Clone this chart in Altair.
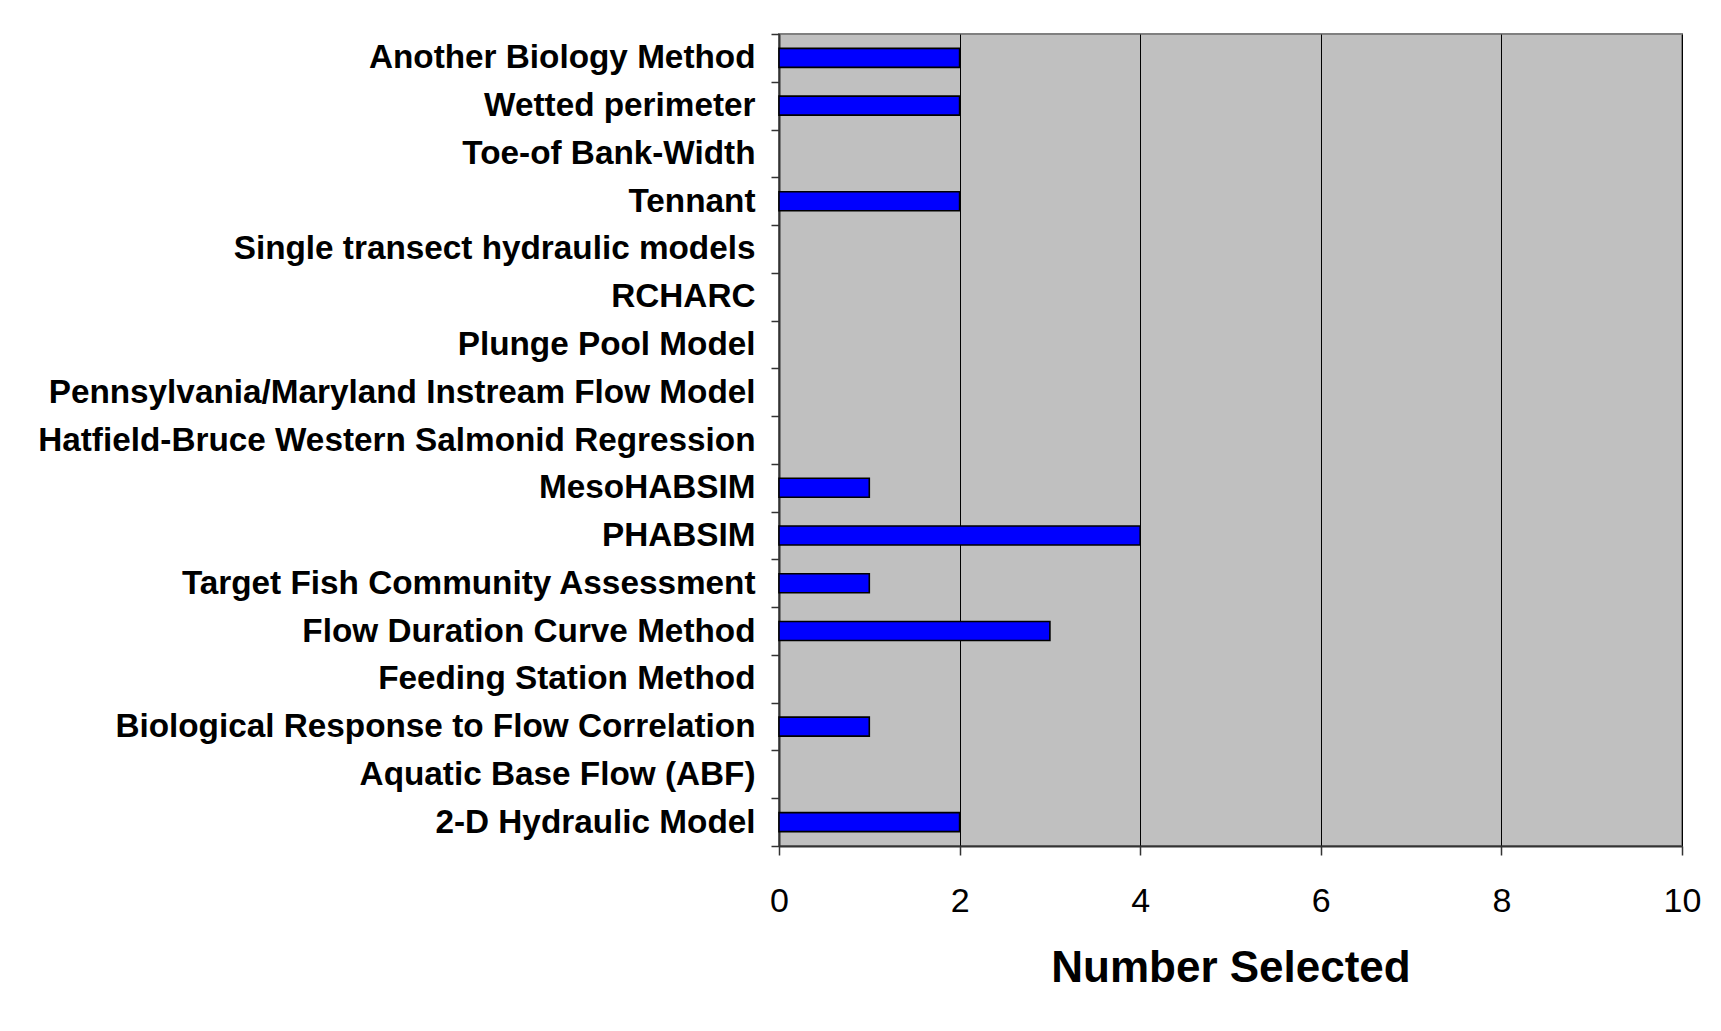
import altair as alt
import pandas as pd

categories = [
    "Another Biology Method",
    "Wetted perimeter",
    "Toe-of Bank-Width",
    "Tennant",
    "Single transect hydraulic models",
    "RCHARC",
    "Plunge Pool Model",
    "Pennsylvania/Maryland Instream Flow Model",
    "Hatfield-Bruce Western Salmonid Regression",
    "MesoHABSIM",
    "PHABSIM",
    "Target Fish Community Assessment",
    "Flow Duration Curve Method",
    "Feeding Station Method",
    "Biological Response to Flow Correlation",
    "Aquatic Base Flow (ABF)",
    "2-D Hydraulic Model",
]
counts = [2, 2, 0, 2, 0, 0, 0, 0, 0, 1, 4, 1, 3, 0, 1, 0, 2]
x_ticks = [0, 2, 4, 6, 8, 10]

df = pd.DataFrame({"method": categories, "count": counts})

FONT = "Liberation Sans"

chart = (
    alt.Chart(df)
    .transform_filter("datum.count > 0")
    .mark_bar(size=19, fill="#0000FF", stroke="#000000", strokeWidth=1.6)
    .encode(
        x=alt.X(
            "count:Q",
            scale=alt.Scale(domain=[0, 10], nice=False),
            axis=alt.Axis(
                values=x_ticks,
                title="Number Selected",
                titleFont=FONT,
                titleFontSize=44,
                titleFontWeight="bold",
                titleColor="#000000",
                titlePadding=28,
                labelFont=FONT,
                labelFontSize=34,
                labelColor="#000000",
                labelPadding=29,
                labelFlush=False,
                labelOverlap=False,
                tickSize=9,
                tickColor="#333333",
                tickWidth=1.5,
                domainColor="#333333",
                domainWidth=2,
                grid=True,
                gridColor="#000000",
                gridWidth=1,
            ),
        ),
        y=alt.Y(
            "method:N",
            sort=categories,
            scale=alt.Scale(domain=categories, paddingInner=0, paddingOuter=0),
            axis=alt.Axis(
                title=None,
                labelFont=FONT,
                labelFontSize=33.3,
                labelFontWeight="bold",
                labelColor="#000000",
                labelPadding=16,
                labelLimit=0,
                tickSize=8,
                tickColor="#333333",
                tickWidth=1.5,
                tickBand="extent",
                domainColor="#333333",
                domainWidth=2,
                grid=False,
            ),
        ),
    )
    .properties(
        width=903,
        height=812,
        autosize=alt.AutoSizeParams(type="none"),
        padding={"left": 771, "top": 26, "right": 24, "bottom": 180},
        background="#FFFFFF",
    )
    .configure_view(fill="#C0C0C0", stroke="#808080", strokeWidth=2)
)

chart.save("out.html", embed_options={"renderer": "svg", "actions": False})
